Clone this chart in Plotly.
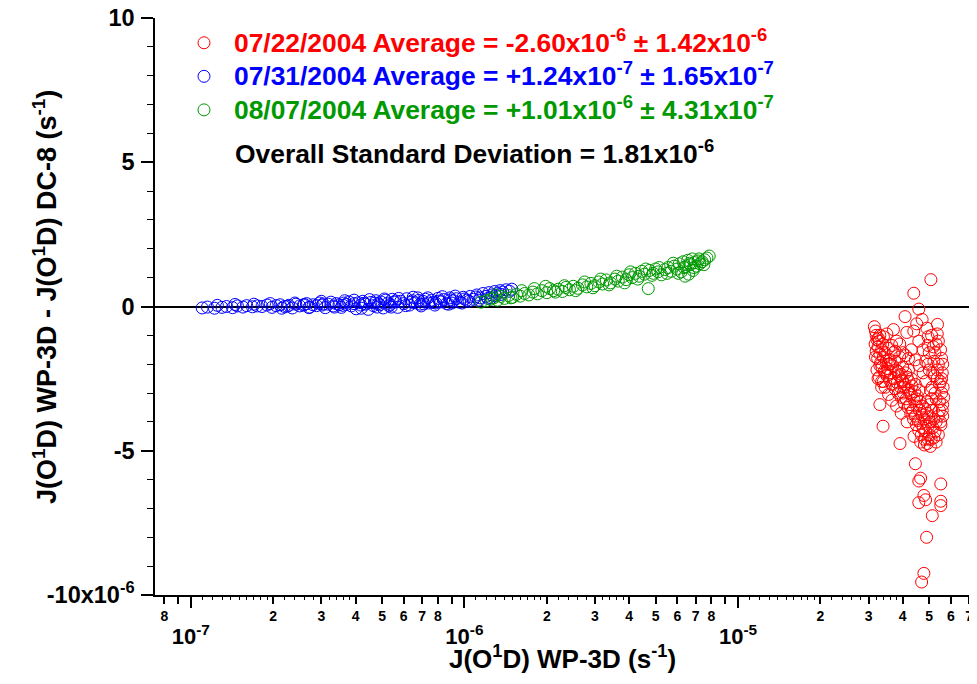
import plotly.graph_objects as go

# ---------------- data (x in s^-1, y in units of 1e-6 s^-1) ----------------
Y_UNIT = 1e-6

# 07/22/2004 (red)  x in units of 1e-5
red_x = [3.15, 3.18, 3.20, 3.22, 3.17, 3.25, 3.20, 3.28, 3.30, 3.24, 3.35, 3.32, 3.38, 3.40, 3.36,
         3.45, 3.42, 3.48, 3.50, 3.30, 3.26, 3.55, 3.52, 3.58, 3.60, 3.62, 3.65, 3.68, 3.70, 3.72,
         3.75, 3.78, 3.80, 3.82, 3.85, 3.88, 3.90, 3.92, 3.95, 3.98, 4.00, 4.02, 4.05, 4.08, 4.10,
         4.12, 4.15, 4.14, 4.08, 4.18, 4.20, 4.22, 4.25, 4.28, 4.30, 4.32, 4.35, 4.38, 4.40, 4.39,
         4.42, 4.45, 4.48, 4.50, 4.52, 4.55, 4.58, 4.58, 4.60, 4.62, 4.65, 4.68, 4.70, 4.71, 4.72,
         4.75, 4.78, 4.80, 4.82, 4.85, 4.88, 4.90, 4.92, 4.95, 4.98, 5.00, 5.02, 5.05, 5.08, 5.10,
         5.12, 5.15, 5.18, 5.20, 5.22, 5.25, 5.30, 5.35, 5.36, 5.40, 5.45, 5.50, 5.52, 5.55, 5.60,
         5.65, 5.58, 5.07, 4.39, 4.58, 3.30, 3.39, 3.91, 4.45, 4.58, 4.65, 5.51, 4.78, 4.58, 4.85,
         5.51, 5.51, 5.13, 4.89, 4.78, 4.69, 3.60, 3.75, 4.00, 4.20, 4.45, 4.10, 3.95, 4.30, 4.60,
         4.25, 3.85, 4.05, 4.50, 4.90, 5.30,
         3.22, 3.28, 3.35, 3.45, 3.55, 3.18, 3.40, 3.50, 3.65, 3.75, 3.90, 4.00, 4.20, 4.30, 4.45,
         4.60, 4.75, 4.85, 5.00, 5.10, 5.25, 5.40, 5.45, 5.55, 5.60, 5.62, 5.50, 5.40, 5.30, 5.20,
         5.05, 4.95, 4.80, 4.65, 4.40, 4.15, 3.95, 3.80, 3.65, 4.50, 4.90, 4.95, 3.70, 5.35, 5.58,
         4.85, 4.95, 5.05, 5.15, 5.25, 5.35, 5.45, 5.55, 5.00, 5.20, 5.40, 5.10, 5.30, 5.50, 3.25,
         3.35, 3.45, 3.30, 3.40, 3.55, 4.75, 4.95, 5.60]
red_y = [-0.70, -0.85, -1.00, -1.15, -1.30, -1.40, -1.55, -1.20, -1.65, -1.80, -1.50, -1.95, -1.30, -1.75, -2.10,
         -1.60, -2.25, -1.90, -2.40, -2.05, -1.10, -1.45, -2.15, -2.55, -1.85, -2.30, -2.70, -2.05, -1.60, -2.50,
         -2.85, -2.20, -1.20, -2.65, -3.00, -2.40, -1.75, -2.80, -3.15, -2.55, -2.10, -3.00, -3.35, -2.70, -2.30,
         -3.20, -2.45, -0.90, -0.35, -3.50, -2.90, -2.60, -3.40, -3.70, -3.05, -2.75, -3.60, -3.90, -3.25, -0.85,
         -2.95, -3.80, -4.10, -3.45, -3.10, -3.95, -1.20, -4.30, -3.60, -3.30, -4.05, -4.45, -3.75, -0.45, -3.45,
         -4.20, -3.90, -4.60, -3.55, -4.30, -4.00, -3.70, -4.75, -4.15, -3.85, -4.45, -3.40, -4.00, -4.60, -3.60,
         -2.80, -4.20, -1.40, -3.90, -2.40, -4.35, -3.20, -0.95, -0.62, -2.00, -3.60, -2.60, -4.10, -3.00, -3.80,
         -3.15, -2.30, 0.93, 0.46, -0.09, -3.40, -4.15, -4.75, -5.45, -6.05, -5.95, -6.15, -6.55, -6.80, -6.70,
         -6.75, -6.90, -7.25, -8.00, -9.25, -9.55, -2.00, -1.90, -2.60, -2.20, -2.70, -1.70, -2.35, -2.50, -2.90,
         -3.00, -2.25, -2.80, -3.20, -3.30, -4.00,
         -2.20, -2.45, -2.60, -2.80, -3.05, -1.75, -1.05, -0.95, -1.35, -1.55, -1.30, -1.60, -1.80, -1.50, -1.85,
         -2.05, -2.30, -1.90, -2.20, -1.00, -1.60, -1.20, -2.70, -1.80, -3.40, -2.80, -4.00, -4.45, -4.70, -4.55,
         -4.85, -4.60, -4.80, -4.70, -4.50, -4.00, -3.70, -3.45, -3.25, -0.60, -0.75, -1.05, -0.80, -2.50, -3.60,
         -2.60, -2.00, -2.90, -2.30, -3.00, -2.20, -3.30, -2.50, -1.60, -1.90, -3.80, -3.20, -1.30, -1.50, -2.50,
         -2.80, -2.30, -1.00, -2.60, -2.00, -1.50, -1.35, -2.00]

# 07/31/2004 (blue)  x in units of 1e-7
blue_x = [1.10, 1.15, 1.22, 1.30, 1.35, 1.42, 1.48, 1.55, 1.60, 1.68, 1.75, 1.82, 1.90, 1.98, 2.05,
          2.12, 2.20, 2.28, 2.35, 2.42, 2.50, 2.58, 2.65, 2.72, 2.80, 2.88, 2.95, 3.02, 3.10, 3.18,
          3.25, 3.32, 3.40, 3.48, 3.55, 3.62, 3.70, 3.78, 3.86, 3.95, 4.02, 4.10, 4.18, 4.25, 4.35,
          4.45, 4.55, 4.65, 4.75, 4.85, 4.95, 5.05, 5.15, 5.25, 5.35, 5.45, 5.55, 5.70, 5.85, 6.00,
          6.15, 6.30, 6.45, 6.60, 6.75, 6.90, 7.05, 7.20, 7.40, 7.60, 7.80, 8.00, 8.20, 8.40, 8.60,
          8.85, 9.10, 9.35, 9.60, 9.90, 10.2, 10.5, 10.8, 11.1, 11.4, 11.7, 12.0, 12.3, 12.6, 12.9,
          13.2, 13.5, 13.8, 14.2, 14.6, 3.05, 3.60, 4.30, 4.90, 5.60, 6.40, 7.10, 8.10, 9.00, 10.0,
          11.0, 12.2, 13.0, 2.25, 2.60, 4.70, 5.30, 6.80, 7.70, 8.90,
          1.25, 1.45, 1.70, 1.95, 2.15, 2.40, 2.70, 3.00, 3.35, 3.65, 3.95, 4.20, 4.50, 4.80, 5.10,
          5.40, 5.75, 6.10, 6.50, 6.95, 7.35, 7.85, 8.30, 8.75, 9.25, 9.80, 10.4, 11.3, 12.5, 13.6, 14.9]
blue_y = [-0.05, -0.02, -0.06, -0.03, 0.00, -0.04, 0.02, -0.02, 0.03, -0.01, 0.02, 0.00, 0.05, -0.03, 0.03,
          0.06, 0.00, 0.04, -0.05, 0.08, 0.02, 0.05, 0.10, -0.02, 0.06, 0.03, 0.12, 0.05, -0.04, 0.08,
          0.15, 0.02, 0.10, 0.06, -0.03, 0.12, 0.07, 0.16, 0.02, 0.10, -0.08, 0.13, 0.05, 0.18, 0.08,
          -0.10, 0.14, 0.03, 0.20, 0.10, 0.16, -0.05, 0.22, 0.12, 0.07, 0.25, 0.15, -0.03, 0.18, 0.10,
          0.27, 0.05, 0.20, 0.13, 0.30, 0.08, 0.18, 0.25, 0.12, 0.22, 0.05, 0.28, 0.16, 0.24, 0.10,
          0.30, 0.20, 0.27, 0.15, 0.32, 0.22, 0.35, 0.25, 0.40, 0.30, 0.45, 0.35, 0.48, 0.40, 0.52,
          0.45, 0.55, 0.50, 0.58, 0.53, 0.09, 0.04, 0.11, 0.06, 0.19, 0.15, 0.09, 0.19, 0.12, 0.26,
          0.33, 0.28, 0.38, 0.01, 0.07, 0.12, 0.02, 0.21, 0.14, 0.23,
          0.04, 0.07, 0.08, 0.10, -0.06, 0.12, -0.04, 0.18, -0.02, 0.20, 0.22, -0.06, 0.24, -0.02, 0.26,
          -0.02, 0.28, 0.03, 0.32, 0.02, 0.30, 0.12, 0.34, 0.08, 0.36, 0.12, 0.18, 0.22, 0.30, 0.42, 0.60]

# 08/07/2004 (green)  x in units of 1e-6
green_x = [1.15, 1.20, 1.25, 1.28, 1.32, 1.36, 1.40, 1.45, 1.50, 1.55, 1.60, 1.66, 1.72, 1.78, 1.85,
           1.92, 2.00, 2.05, 2.12, 2.20, 2.28, 2.35, 2.42, 2.50, 2.60, 2.70, 2.80, 2.90, 3.00, 3.10,
           3.20, 3.30, 3.42, 3.55, 3.65, 3.78, 3.90, 4.00, 4.10, 4.22, 4.35, 4.45, 4.55, 4.70, 4.75,
           4.90, 5.00, 5.10, 5.25, 5.40, 5.55, 5.70, 5.85, 6.00, 6.10, 6.20, 6.30, 6.40, 6.45, 6.55,
           6.60, 6.70, 6.80, 6.85, 6.95, 7.05, 7.15, 7.25, 7.40, 7.55, 7.70, 7.85,
           1.30, 1.48, 1.62, 1.80, 1.98, 2.15, 2.32, 2.55, 2.75, 2.95, 3.15, 3.38, 3.60, 3.85, 4.05,
           4.30, 4.60, 4.85, 5.15, 5.50, 5.80, 6.05, 6.35, 6.65, 6.90, 7.20, 7.50]
green_y = [0.15, 0.20, 0.25, 0.30, 0.22, 0.35, 0.28, 0.38, 0.32, 0.42, 0.36, 0.45, 0.40, 0.50, 0.44,
           0.55, 0.48, 0.62, 0.55, 0.60, 0.52, 0.66, 0.58, 0.70, 0.63, 0.75, 0.68, 0.80, 0.72, 0.85,
           0.78, 0.92, 0.82, 0.95, 0.88, 1.02, 0.93, 1.10, 1.00, 1.15, 1.05, 1.22, 1.12, 0.62, 1.25,
           1.15, 1.30, 1.20, 1.10, 1.28, 1.35, 1.22, 1.40, 1.30, 1.48, 1.20, 1.55, 1.05, 1.38, 1.60,
           1.12, 1.45, 1.65, 1.25, 1.52, 1.40, 1.58, 1.48, 1.55, 1.62, 1.68, 1.75,
           0.40, 0.30, 0.55, 0.62, 0.70, 0.50, 0.72, 0.55, 0.85, 0.65, 0.95, 0.75, 1.05, 0.82, 1.20,
           0.95, 1.30, 1.08, 1.35, 1.15, 1.50, 1.15, 1.35, 1.50, 1.35, 1.65, 1.45]

legend_names = [
    "07/22/2004 Average = -2.60x10<sup>-6</sup> ± 1.42x10<sup>-6</sup>",
    "07/31/2004 Average = +1.24x10<sup>-7</sup> ± 1.65x10<sup>-7</sup>",
    "08/07/2004 Average = +1.01x10<sup>-6</sup> ± 4.31x10<sup>-7</sup>",
]
overall_text = "Overall Standard Deviation = 1.81x10<sup>-6</sup>"
x_title = "J(O<sup>1</sup>D) WP-3D (s<sup>-1</sup>)"
y_title = "J(O<sup>1</sup>D) WP-3D - J(O<sup>1</sup>D) DC-8 (s<sup>-1</sup>)"

y_tickvals = [-10, -5, 0, 5, 10]
y_ticktext = ["-10x10<sup>-6</sup>", "-5", "0", "5", "10"]
x_major = [1e-7, 1e-6, 1e-5]
x_major_text = ["10<sup>-7</sup>", "10<sup>-6</sup>", "10<sup>-5</sup>"]

# ---------------- styling ----------------
RED, BLUE, GREEN = "#ff0000", "#0000ff", "#009900"
FONT = "Liberation Sans, Arial, sans-serif"

# tick positions for log axis
mid_vals, mid_text = [8e-8, 9e-8], ["8", ""]
for dec in [1e-7, 1e-6]:
    for m in range(2, 10):
        mid_vals.append(m * dec)
        mid_text.append("" if m == 9 else str(m))
for m in range(2, 8):
    mid_vals.append(m * 1e-5)
    mid_text.append(str(m))
tiny_vals = []
for dec in [1e-7, 1e-6, 1e-5]:
    for f in [1.1, 1.2, 1.3, 1.4, 1.5, 1.6, 1.7, 1.8, 1.9, 2.2, 2.4, 2.6, 2.8, 3.2, 3.4, 3.6, 3.8]:
        tiny_vals.append(f * dec)

XR = [-7.131, -4.152]
# page body has an 8px margin; figure coords = page coords - 8
W, H = 969, 676
L, T = 147, 10
PW, PH = 815, 577
R, B = W - L - PW, H - T - PH


def px(xp):  # page x -> paper fraction
    return (xp - 8 - L) / PW


def py(yp):  # page y -> paper fraction
    return 1 - (yp - 8 - T) / PH


fig = go.Figure()
series = [
    (red_x, 1e-5, red_y, RED, legend_names[0]),
    (blue_x, 1e-7, blue_y, BLUE, legend_names[1]),
    (green_x, 1e-6, green_y, GREEN, legend_names[2]),
]
for i, (xs, xu, ys, col, name) in enumerate(series):
    fig.add_trace(go.Scatter(
        x=[v * xu for v in xs], y=[v * Y_UNIT for v in ys], mode="markers",
        marker=dict(symbol="circle-open", size=12, color=col, line=dict(width=1, color=col)),
        name=f'<span style="color:{col};font-size:26.4px">{name}</span>',
    ))

# dummy trace to activate the overlay axis used for decade ticks
fig.add_trace(go.Scatter(x=[None], y=[None], xaxis="x2", showlegend=False, hoverinfo="skip"))

fig.update_layout(
    width=W, height=H,
    margin=dict(l=L, r=R, t=T, b=B, autoexpand=False),
    paper_bgcolor="white", plot_bgcolor="white",
    font=dict(family=FONT, color="black", size=22, weight="bold"),
    showlegend=True,
    legend=dict(x=px(174), y=py(21), xanchor="left", yanchor="top",
                font=dict(family=FONT, size=23.5, weight="bold"),
                bgcolor="rgba(0,0,0,0)", itemwidth=50, tracegroupgap=0),
    xaxis=dict(
        type="log", range=XR, showgrid=False, zeroline=False, automargin=False,
        showline=True, linecolor="black", linewidth=1.5, ticklabeloverflow="allow",
        tickmode="array", tickvals=mid_vals, ticktext=mid_text,
        ticks="outside", ticklen=7, tickwidth=1.5, tickcolor="black",
        tickfont=dict(size=14, family=FONT, weight="bold"),
        minor=dict(tickmode="array", tickvals=tiny_vals, ticks="outside",
                   ticklen=3, tickwidth=1.2, tickcolor="black", showgrid=False),
        title=dict(text=x_title, font=dict(size=26, family=FONT, weight="bold"), standoff=27),
    ),
    xaxis2=dict(
        type="log", range=XR, overlaying="x", anchor="y", side="bottom", automargin=False,
        showgrid=False, zeroline=False, showline=False, ticklabeloverflow="allow",
        tickmode="array", tickvals=x_major, ticktext=x_major_text,
        ticks="outside", ticklen=12, tickwidth=1.5, tickcolor="black",
        ticklabelstandoff=10,
        tickfont=dict(size=22, family=FONT, weight="bold"),
    ),
    yaxis=dict(
        range=[-10e-6, 10e-6], showgrid=False, automargin=False, ticklabeloverflow="allow",
        zeroline=True, zerolinecolor="black", zerolinewidth=1.5,
        showline=True, linecolor="black", linewidth=1.5,
        tickmode="array", tickvals=[v * Y_UNIT for v in y_tickvals], ticktext=y_ticktext,
        ticks="outside", ticklen=12, tickwidth=1.5, tickcolor="black",
        ticklabelstandoff=2,
        tickfont=dict(size=23.5, family=FONT, weight="bold"),
        minor=dict(tickmode="linear", tick0=0, dtick=1e-6, ticks="outside",
                   ticklen=6, tickwidth=1.2, tickcolor="black", showgrid=False),
    ),
    annotations=[
        dict(text=overall_text, xref="paper", yref="paper", x=px(233), y=py(152),
             xanchor="left", yanchor="middle", showarrow=False,
             font=dict(size=26.4, family=FONT, weight="bold", color="black")),
        dict(text=y_title, xref="paper", yref="paper", x=px(45), y=py(297),
             xanchor="center", yanchor="middle", showarrow=False, textangle=-90,
             font=dict(size=27, family=FONT, weight="bold", color="black")),
    ],
)

fig.write_html("out.html")
